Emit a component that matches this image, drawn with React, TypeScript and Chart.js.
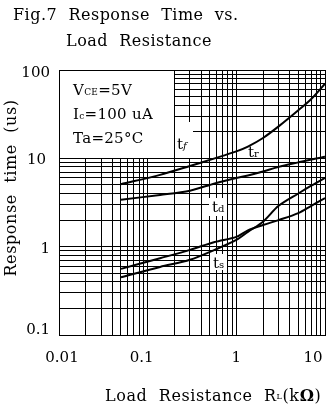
import React, { useEffect, useRef } from 'react';
import { Chart, registerables } from 'chart.js';

Chart.register(...registerables);

// Load resistance (kΩ) sample points along the curves
const R_L = [0.05, 0.138, 0.3, 0.57, 1, 1.35, 2, 3, 5, 7, 10];
// Response times (us)
const T_F = [5.1, 6.5, 8.2, 10, 12, 13.6, 17, 23, 35, 47, 70];
const T_R = [3.4, 3.85, 4.3, 5.2, 6.0, 6.4, 7.1, 8.0, 9.0, 9.7, 10.4];
const T_D = [0.45, 0.59, 0.71, 0.92, 1.19, 1.47, 1.92, 2.9, 4.0, 4.9, 6.0];
const T_S = [0.56, 0.74, 0.92, 1.13, 1.29, 1.53, 1.76, 2.0, 2.4, 2.9, 3.55];

const X_DECADES = [0.01, 0.1, 1];
const Y_DECADES = [0.1, 1, 10];
const SIGNIFICANDS = [1, 2, 3, 4, 5, 6, 7, 8, 9];
const X_TICK_VALUES = [0.01, 0.1, 1, 10];
const X_TICK_LABELS = ['0.01', '0.1', '1', '10'];
const Y_TICK_VALUES = [0.1, 1, 10, 100];
const Y_TICK_LABELS = ['0.1', '1', '10', '100'];

const TITLE_1 = 'Fig.7  Response  Time  vs.';
const TITLE_2 = 'Load  Resistance';
const Y_TITLE = 'Response  time  (us)';

const FONT = "'DejaVu Serif', serif";

const gridValues = (decades: number[], last: number) => {
  const out: number[] = [];
  decades.forEach((d) => SIGNIFICANDS.forEach((s) => out.push(+(d * s).toPrecision(3))));
  out.push(last);
  return out;
};

const X_GRID = gridValues(X_DECADES, 10);
const Y_GRID = gridValues(Y_DECADES, 100);

// small per-label nudges (px) to match the scanned original
const X_LABEL_NUDGE = [3, -6, 0, -12];
const Y_LABEL_NUDGE = [-5, 2, 2, 3];
const Y_LABEL_XNUDGE = [0, 0, -4, 0];

const series = [T_F, T_R, T_D, T_S];

const textPlugin = {
  id: 'textPlugin',
  beforeDatasetsDraw(chart: any) {
    const ctx = chart.ctx;
    const x = chart.scales.x;
    const y = chart.scales.y;
    const a = chart.chartArea;
    ctx.save();
    ctx.fillStyle = '#fff';
    // conditions box (top-left)
    const bx = Math.round(x.getPixelForValue(0.2));
    const by = Math.round(y.getPixelForValue(10));
    ctx.fillRect(a.left + 1, a.top + 1, bx - a.left - 1, by - a.top - 1);
    // label boxes
    ctx.fillRect(bx + 1, 122, 18, 36);
    ctx.fillRect(209, 198, 18, 18);
    ctx.fillRect(210, 254, 17, 16);
    ctx.fillRect(247, 146, 15, 12);
    ctx.restore();
  },
  afterDraw(chart: any) {
    const ctx = chart.ctx;
    const x = chart.scales.x;
    const y = chart.scales.y;
    ctx.save();
    ctx.fillStyle = '#000';
    ctx.textBaseline = 'alphabetic';

    // title
    ctx.font = `16px ${FONT}`;
    ctx.letterSpacing = '0.5px';
    ctx.textAlign = 'left';
    ctx.fillText(TITLE_1, 13, 20);
    ctx.fillText(TITLE_2, 66, 46);
    ctx.letterSpacing = '0px';

    // y tick labels
    ctx.font = `15px ${FONT}`;
    ctx.textAlign = 'right';
    ctx.textBaseline = 'middle';
    Y_TICK_VALUES.forEach((v, i) => {
      ctx.fillText(Y_TICK_LABELS[i], 50 + Y_LABEL_XNUDGE[i], y.getPixelForValue(v) + Y_LABEL_NUDGE[i]);
    });
    // x tick labels
    ctx.textAlign = 'center';
    ctx.textBaseline = 'alphabetic';
    X_TICK_VALUES.forEach((v, i) => {
      ctx.fillText(X_TICK_LABELS[i], x.getPixelForValue(v) + X_LABEL_NUDGE[i], 362);
    });

    // y title
    ctx.save();
    ctx.translate(16, 188);
    ctx.rotate(-Math.PI / 2);
    ctx.textAlign = 'center';
    ctx.font = `16px ${FONT}`;
    ctx.letterSpacing = '0.6px';
    ctx.fillText(Y_TITLE, 0, 0);
    ctx.restore();

    // x title with subscript
    ctx.textAlign = 'left';
    ctx.letterSpacing = '0.6px';
    let cx = 105;
    const base = 401;
    const put = (t: string, font: string, dy = 0) => {
      ctx.font = font;
      ctx.fillText(t, cx, base + dy);
      cx += ctx.measureText(t).width;
    };
    put('Load  Resistance  R', `16px ${FONT}`);
    put('L', `8px ${FONT}`, -2);
    put('(k', `16px ${FONT}`);
    put('Ω', `bold 16px ${FONT}`);
    put(')', `16px ${FONT}`);
    ctx.letterSpacing = '0.3px';

    // conditions
    const line = (parts: [string, string, number][], x0: number, b: number) => {
      let px = x0;
      parts.forEach(([t, f, dy]) => {
        ctx.font = f;
        ctx.fillText(t, px, b + dy);
        px += ctx.measureText(t).width;
      });
    };
    const big = `15px ${FONT}`;
    const small = `9px ${FONT}`;
    line([['V', big, 0], ['CE', small, 0], ['=5V', big, 0]], 73, 95);
    line([['I', big, 0], ['c', small, 0], ['=100 uA', big, 0]], 73, 119);
    line([['Ta=25°C', big, 0]], 73, 143);
    ctx.letterSpacing = '0px';

    // curve labels
    line([['t', big, 0], ['f', `italic 10px ${FONT}`, 0]], 177, 149);
    line([['t', big, 0], ['r', `10px ${FONT}`, 0]], 248, 157);
    line([['t', big, 0], ['d', `10px ${FONT}`, 0]], 212, 212);
    line([['t', big, 0], ['s', `10px ${FONT}`, 0]], 213, 268);

    ctx.restore();
  },
};

export default function App() {
  const ref = useRef<HTMLCanvasElement | null>(null);
  useEffect(() => {
    document.body.style.margin = '0';
    const canvas = ref.current!;
    const chart = new Chart(canvas, {
      type: 'line',
      data: {
        datasets: series.map((s) => ({
          data: R_L.map((r, i) => ({ x: r, y: s[i] })),
          borderColor: '#000',
          borderWidth: 2,
          pointRadius: 0,
          fill: false,
          tension: 0.3,
        })),
      },
      options: {
        responsive: false,
        animation: false,
        events: [],
        layout: { padding: { left: 0, top: 70, right: 6, bottom: 0 } },
        plugins: { legend: { display: false }, tooltip: { enabled: false }, title: { display: false } },
        scales: {
          x: {
            type: 'logarithmic',
            min: 0.01,
            max: 10,
            afterBuildTicks: (s: any) => {
              s.ticks = X_GRID.map((v) => ({ value: v }));
            },
            afterFit: (s: any) => {
              s.height = 69;
            },
            ticks: { display: false },
            grid: { color: '#000', lineWidth: 1, drawTicks: false },
            border: { color: '#000', width: 1 },
          },
          y: {
            type: 'logarithmic',
            min: 0.1,
            max: 100,
            afterBuildTicks: (s: any) => {
              s.ticks = Y_GRID.map((v) => ({ value: v }));
            },
            afterFit: (s: any) => {
              s.width = 59;
            },
            ticks: { display: false },
            grid: { color: '#000', lineWidth: 1, drawTicks: false },
            border: { color: '#000', width: 1 },
          },
        },
      },
      plugins: [textPlugin],
    });
    return () => chart.destroy();
  }, []);
  return (
    <div style={{ position: 'absolute', left: 0, top: 0, width: 331, height: 404, background: '#fff' }}>
      <canvas ref={ref} width={331} height={404} style={{ display: 'block' }} />
    </div>
  );
}
